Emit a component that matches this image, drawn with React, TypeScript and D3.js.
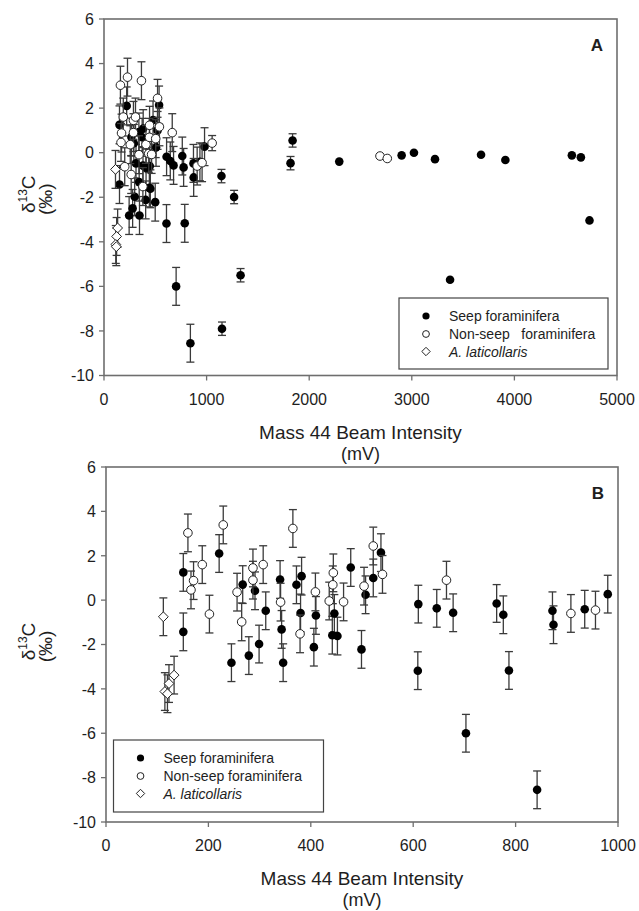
import React from "react";
import * as d3 from "d3";

// ---------- DATA ----------
// Panel B (and cluster in panel A): [beam intensity mV, d13C permil]
const seepPoints: [number, number][] = [
  [151, 1.25], [151, -1.43], [221, 2.1], [267, 0.7], [291, 0.42], [312, -0.48],
  [340, 0.93], [343, -1.32], [382, 1.08], [372, 0.69], [380, -0.58], [299, -1.98],
  [279, -2.5], [245, -2.82], [346, -2.82], [410, -0.69], [406, -2.12], [446, -0.6],
  [442, -1.58], [452, -1.62], [478, 1.47], [507, 0.24], [499, -2.22], [537, 2.14],
  [522, 1.0], [610, -0.18], [609, -3.18], [646, -0.37], [678, -0.57], [763, -0.15],
  [776, -0.66], [787, -3.17], [703, -6.0], [842, -8.55], [872, -0.48], [874, -1.11],
  [935, -0.41], [980, 0.27],
];
const nonSeepPoints: [number, number][] = [
  [160, 3.03], [229, 3.39], [188, 1.6], [171, 0.88], [166, 0.46], [202, -0.63],
  [256, 0.36], [287, 1.45], [307, 1.6], [287, 0.9], [341, -0.09], [265, -0.98],
  [365, 3.23], [379, -1.52], [409, 0.37], [444, 1.23], [443, 0.69], [436, -0.04],
  [464, -0.08], [504, 0.63], [522, 2.44], [540, 1.16], [665, 0.9], [908, -0.6],
  [956, -0.45],
];
const laticollarisPoints: [number, number][] = [
  [112, -0.75], [133, -3.38], [123, -3.76], [115, -4.12], [120, -4.22],
];
const clusterError = 0.85;

// Panel A only (beyond 1000 mV): [mV, d13C, error]
const seepExtraA: [number, number, number][] = [
  [1145, -1.05, 0.3], [1268, -1.99, 0.3], [1331, -5.5, 0.3], [1150, -7.9, 0.3],
  [1838, 0.55, 0.3], [1818, -0.47, 0.3], [2293, -0.4, 0.1], [2901, -0.12, 0.1],
  [3021, 0.0, 0.1], [3226, -0.29, 0.1], [3373, -5.7, 0.1], [3675, -0.09, 0.1],
  [3912, -0.33, 0.1], [4560, -0.12, 0.1], [4648, -0.21, 0.1], [4732, -3.04, 0.1],
];
const nonSeepExtraA: [number, number, number][] = [
  [1054, 0.43, 0.34], [2690, -0.15, 0.1], [2761, -0.26, 0.1],
];

const yTicks = [6, 4, 2, 0, -2, -4, -6, -8, -10];
const xTicksA = [0, 1000, 2000, 3000, 4000, 5000];
const xTicksB = [0, 200, 400, 600, 800, 1000];
const legendLabelsA = ["Seep foraminifera", "Non-seep   foraminifera", "A. laticollaris"];
const legendLabelsB = ["Seep foraminifera", "Non-seep foraminifera", "A. laticollaris"];

// ---------- STYLE ----------
const FONT = "'Liberation Sans', Arial, Helvetica, sans-serif";
const FRAME = "#6e6e6e";
const BAR = "#3a3a3a";
const TEXT = "#1e1e1e";
const R = 4.3;

type Pt = { x: number; y: number; e: number };

type PanelProps = {
  left: number; right: number; top: number; bottom: number;
  xMax: number; xTicks: number[];
  seep: Pt[]; nonSeep: Pt[]; diamonds: Pt[];
  letter: string;
  legend: { x: number; y: number; w: number; h: number; labels: string[] };
};

function Panel(p: PanelProps) {
  const xs = d3.scaleLinear().domain([0, p.xMax]).range([p.left, p.right]);
  const ys = d3.scaleLinear().domain([-10, 6]).range([p.bottom, p.top]);
  const cap = 4;
  const bars = (pts: Pt[], key: string) =>
    pts.map((d, i) => {
      const cx = xs(d.x);
      const y1 = ys(d.y + d.e);
      const y2 = ys(d.y - d.e);
      if (Math.abs(y2 - y1) < 2 * R + 1) return null;
      return (
        <g key={key + i} stroke={BAR} strokeWidth={1.3}>
          <line x1={cx} x2={cx} y1={y1} y2={y2} />
          <line x1={cx - cap} x2={cx + cap} y1={y1} y2={y1} />
          <line x1={cx - cap} x2={cx + cap} y1={y2} y2={y2} />
        </g>
      );
    });
  const diamondPath = (cx: number, cy: number, r: number) =>
    `M${cx},${cy - r}L${cx + r},${cy}L${cx},${cy + r}L${cx - r},${cy}Z`;
  const midY = (p.top + p.bottom) / 2;
  const midX = (p.left + p.right) / 2;
  const lg = p.legend;
  const rowY = [lg.y + 18, lg.y + 36, lg.y + 53.5];
  const mx = lg.x + 27;
  const tx = lg.x + 50;
  return (
    <g>
      {/* series: seep */}
      {bars(p.seep, "sb")}
      {p.seep.map((d, i) => (
        <circle key={"s" + i} cx={xs(d.x)} cy={ys(d.y)} r={R} fill="#000" />
      ))}
      {/* non-seep */}
      {bars(p.nonSeep, "nb")}
      {p.nonSeep.map((d, i) => (
        <circle key={"n" + i} cx={xs(d.x)} cy={ys(d.y)} r={R} fill="#fff" stroke="#222" strokeWidth={1} />
      ))}
      {/* A. laticollaris */}
      {bars(p.diamonds, "db")}
      {p.diamonds.map((d, i) => (
        <path key={"d" + i} d={diamondPath(xs(d.x), ys(d.y), R + 0.6)} fill="#fff" stroke="#222" strokeWidth={1} />
      ))}
      {/* frame */}
      <rect x={p.left} y={p.top} width={p.right - p.left} height={p.bottom - p.top} fill="none" stroke={FRAME} strokeWidth={1.6} />
      {/* y ticks */}
      {yTicks.map((t) => (
        <g key={"yt" + t}>
          <line x1={p.left - 5} x2={p.left} y1={ys(t)} y2={ys(t)} stroke={FRAME} strokeWidth={1.3} />
          <text x={p.left - 10} y={ys(t)} dy="0.36em" textAnchor="end" fontSize={16} fill={TEXT} fontFamily={FONT}>
            {t}
          </text>
        </g>
      ))}
      {/* x ticks */}
      {p.xTicks.map((t) => (
        <g key={"xt" + t}>
          <line x1={xs(t)} x2={xs(t)} y1={p.bottom} y2={p.bottom + 5} stroke={FRAME} strokeWidth={1.3} />
          <text x={xs(t)} y={p.bottom + 29} textAnchor="middle" fontSize={16} fill={TEXT} fontFamily={FONT}>
            {t}
          </text>
        </g>
      ))}
      {/* axis titles */}
      <text x={midX} y={p.bottom + 63} textAnchor="middle" fontSize={19} fill={TEXT} fontFamily={FONT}>
        Mass 44 Beam Intensity
      </text>
      <text x={midX} y={p.bottom + 84} textAnchor="middle" fontSize={18} fill={TEXT} fontFamily={FONT}>
        (mV)
      </text>
      <text transform={`translate(35,${midY - 3}) rotate(-90)`} textAnchor="middle" fontSize={19} fill={TEXT} fontFamily={FONT}>
        δ<tspan fontSize={12} dy={-8}>13</tspan>
        <tspan dy={8}>C</tspan>
      </text>
      <text transform={`translate(52,${midY + 2}) rotate(-90)`} textAnchor="middle" fontSize={19} fill={TEXT} fontFamily={FONT}>
        (‰)
      </text>
      {/* panel letter */}
      <text x={p.right - 14} y={p.top + 32} textAnchor="end" fontSize={17} fontWeight="bold" fill={TEXT} fontFamily={FONT}>
        {p.letter}
      </text>
      {/* legend */}
      <rect x={lg.x} y={lg.y} width={lg.w} height={lg.h} fill="#fff" stroke="#444" strokeWidth={1.2} />
      <circle cx={mx} cy={rowY[0]} r={3.6} fill="#000" />
      <circle cx={mx} cy={rowY[1]} r={3.4} fill="#fff" stroke="#222" strokeWidth={1} />
      <path d={diamondPath(mx, rowY[2], 4.2)} fill="#fff" stroke="#222" strokeWidth={1} />
      {lg.labels.map((l, i) => (
        <text key={"lg" + i} x={tx} y={rowY[i]} dy="0.36em" fontSize={14} fill={TEXT} fontFamily={FONT}
          fontStyle={i === 2 ? "italic" : "normal"} style={{ whiteSpace: "pre" }}>
          {l}
        </text>
      ))}
    </g>
  );
}

export default function App() {
  const toPts = (arr: [number, number][], e: number): Pt[] => arr.map(([x, y]) => ({ x, y, e }));
  const toPts3 = (arr: [number, number, number][]): Pt[] => arr.map(([x, y, e]) => ({ x, y, e }));
  const seep = toPts(seepPoints, clusterError);
  const nonSeep = toPts(nonSeepPoints, clusterError);
  const diamonds = toPts(laticollarisPoints, clusterError);
  return (
    <svg width={639} height={911} style={{ position: "absolute", left: 0, top: 0, background: "#fff" }}>
      <rect x={0} y={0} width={639} height={911} fill="#fff" />
      <Panel
        left={104} right={617} top={19} bottom={375.5}
        xMax={5000} xTicks={xTicksA}
        seep={[...seep, ...toPts3(seepExtraA)]}
        nonSeep={[...nonSeep, ...toPts3(nonSeepExtraA)]}
        diamonds={diamonds}
        letter="A"
        legend={{ x: 399, y: 298, w: 209, h: 71, labels: legendLabelsA }}
      />
      <Panel
        left={106} right={618} top={467} bottom={822}
        xMax={1000} xTicks={xTicksB}
        seep={seep} nonSeep={nonSeep} diamonds={diamonds}
        letter="B"
        legend={{ x: 113.5, y: 740, w: 210, h: 72, labels: legendLabelsB }}
      />
    </svg>
  );
}
